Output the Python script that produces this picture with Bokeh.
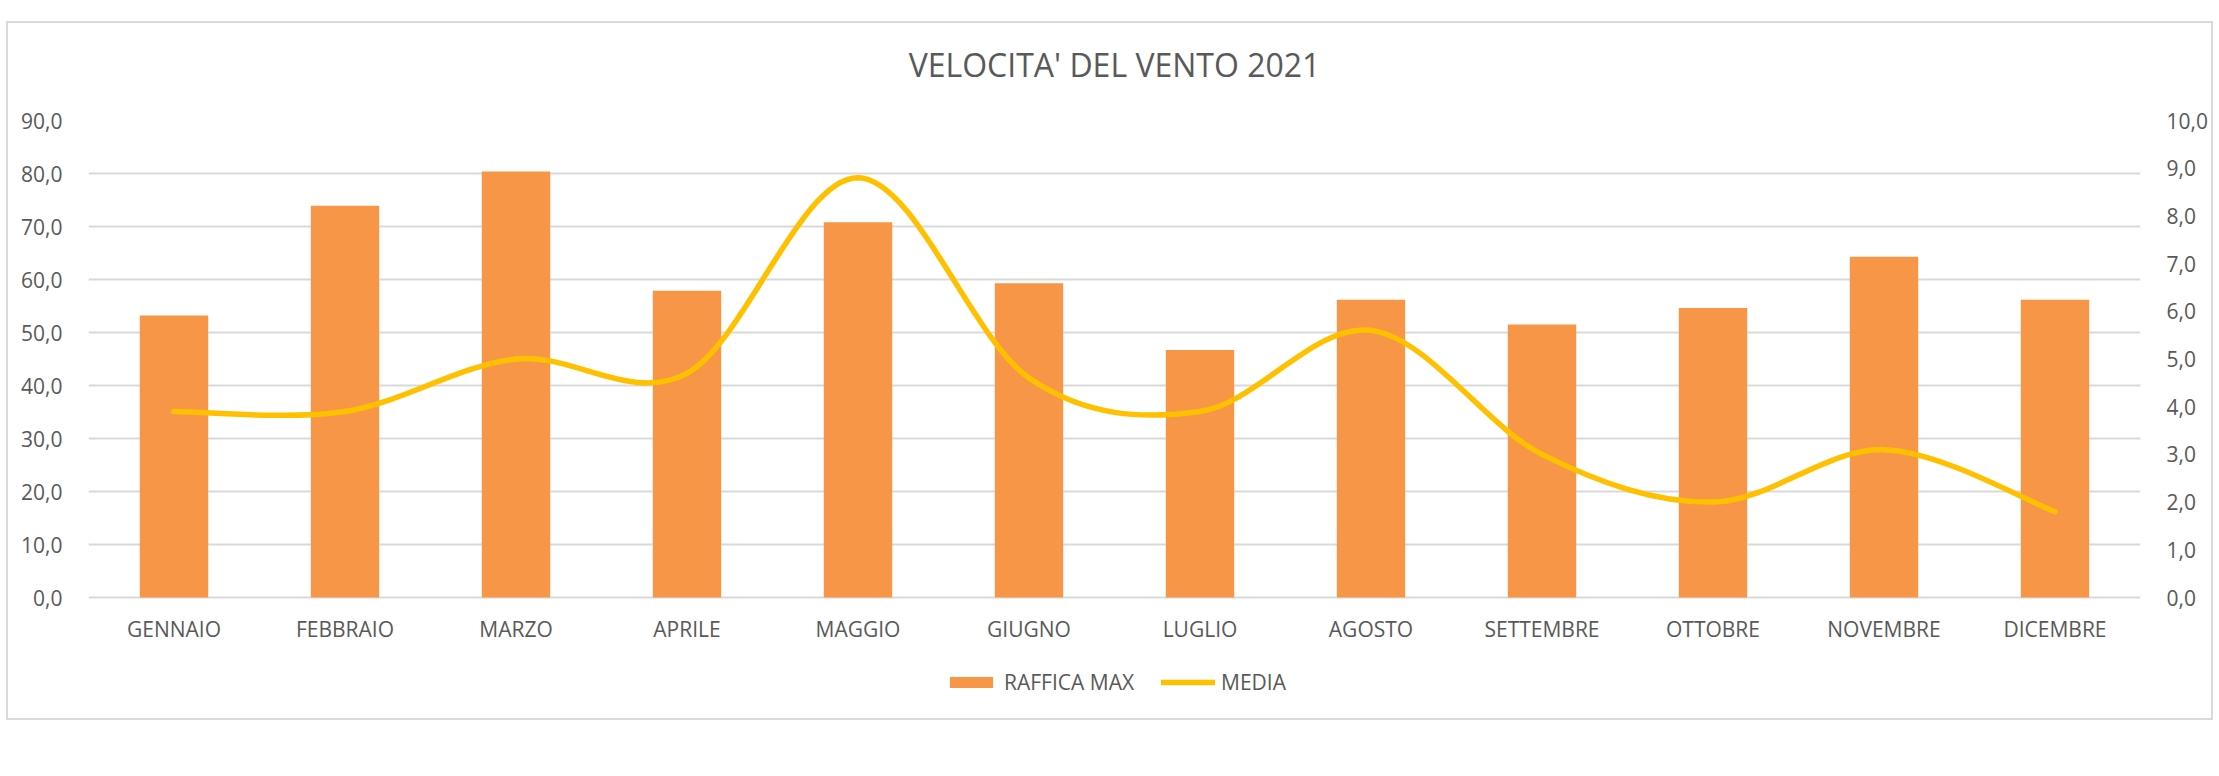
from bokeh.plotting import figure
from bokeh.models import (Range1d, LinearAxis, FixedTicker, Legend, LegendItem, Title)
from bokeh.embed import file_html
from bokeh.resources import INLINE

# ---- data ----
months = ["GENNAIO", "FEBBRAIO", "MARZO", "APRILE", "MAGGIO", "GIUGNO",
          "LUGLIO", "AGOSTO", "SETTEMBRE", "OTTOBRE", "NOVEMBRE", "DICEMBRE"]
raffica_max = [53.2, 73.9, 80.4, 57.9, 70.8, 59.3, 46.7, 56.2, 51.5, 54.6, 64.3, 56.2]
media = [3.9, 3.9, 5.0, 4.7, 8.8, 4.6, 3.9, 5.6, 3.0, 2.0, 3.1, 1.8]
left_ticks = [0, 10, 20, 30, 40, 50, 60, 70, 80, 90]
right_ticks = [0, 1, 2, 3, 4, 5, 6, 7, 8, 9, 10]
title_text = "VELOCITA' DEL VENTO 2021"

FONT = "Open Sans"
TXT = "#595959"
GRID = "#d9d9d9"
ORANGE = "#F79646"
YELLOW = "#FFC000"

# layout (pixels)
FRAME_H = 577          # plot frame incl. room for the legend under the axis
VALUE_H = 477          # pixels between 0 and 90 on the left axis
px_per_unit = VALUE_H / left_ticks[-1]
left_start = -(FRAME_H - VALUE_H) / px_per_unit
right_start = left_start * right_ticks[-1] / left_ticks[-1]

xs = list(range(len(months)))

p = figure(frame_width=2052, frame_height=FRAME_H, output_backend="svg",
           toolbar_location=None,
           x_range=Range1d(-0.5, len(months) - 0.5),
           y_range=Range1d(left_start, left_ticks[-1]),
           min_border_left=80, min_border_right=71, min_border_top=97,
           min_border_bottom=21, margin=(21, 0, 0, 6))
p.styles = {"border": "2px solid #d9d9d9"}
p.outline_line_color = None
p.background_fill_color = "white"
p.border_fill_color = "white"

# gap between plot area and title, then the title itself
p.add_layout(Title(text=" ", text_font_size="1px", standoff=32), "above")
p.add_layout(Title(text=title_text, align="center", vertical_align="bottom",
                   text_font=FONT, text_font_size="32px", text_font_style="normal",
                   text_color=TXT, standoff=0), "above")

p.extra_y_ranges = {"media": Range1d(right_start, right_ticks[-1])}

# bars
bars = p.vbar(x=xs, top=raffica_max, width=0.4, fill_color=ORANGE, line_color=None)

# smoothed line (Excel-style Catmull-Rom bezier)
n = len(media)
x0, y0, x1, y1, cx0, cy0, cx1, cy1 = [], [], [], [], [], [], [], []
for i in range(n - 1):
    pi_x, pi_y = xs[i], media[i]
    pn_x, pn_y = xs[i + 1], media[i + 1]
    pp_x, pp_y = (xs[i - 1], media[i - 1]) if i > 0 else (pi_x, pi_y)
    pnn_x, pnn_y = (xs[i + 2], media[i + 2]) if i + 2 < n else (pn_x, pn_y)
    x0.append(pi_x); y0.append(pi_y); x1.append(pn_x); y1.append(pn_y)
    cx0.append(pi_x + (pn_x - pp_x) / 6); cy0.append(pi_y + (pn_y - pp_y) / 6)
    cx1.append(pn_x - (pnn_x - pi_x) / 6); cy1.append(pn_y - (pnn_y - pi_y) / 6)
line = p.bezier(x0=x0, y0=y0, x1=x1, y1=y1, cx0=cx0, cy0=cy0, cx1=cx1, cy1=cy1,
                line_color=YELLOW, line_width=5.5, line_cap="round",
                y_range_name="media")

def fmt(v):
    return f"{v:.1f}".replace(".", ",")

# x axis (category labels just under the zero line)
xa = p.xaxis[0]
xa.ticker = FixedTicker(ticks=xs)
xa.major_label_overrides = {i: m for i, m in zip(xs, months)}
xa.fixed_location = -11 / px_per_unit

# left axis
ya = p.yaxis[0]
ya.ticker = FixedTicker(ticks=left_ticks)
ya.major_label_overrides = {t: fmt(t) for t in left_ticks}

# right axis
ra = LinearAxis(y_range_name="media", ticker=FixedTicker(ticks=right_ticks))
ra.major_label_overrides = {t: fmt(t) for t in right_ticks}
p.add_layout(ra, "right")

for ax in [xa, ya, ra]:
    ax.axis_line_color = None
    ax.major_tick_line_color = None
    ax.minor_tick_line_color = None
    ax.major_label_text_font = FONT
    ax.major_label_text_font_size = "21px"
    ax.major_label_text_color = TXT
    ax.major_label_standoff = 20
xa.major_label_standoff = 0

p.xgrid.grid_line_color = None
p.ygrid.ticker = FixedTicker(ticks=left_ticks)
p.ygrid.grid_line_color = GRID
p.ygrid.grid_line_width = 2

legend = Legend(items=[LegendItem(label="RAFFICA MAX", renderers=[bars]),
                       LegendItem(label="MEDIA", renderers=[line])],
                orientation="horizontal", location=(856, 1),
                padding=0, margin=0, spacing=27, label_standoff=6,
                glyph_width=54, glyph_height=14,
                label_text_font=FONT, label_text_font_size="21px",
                label_text_color=TXT, border_line_color=None,
                background_fill_alpha=0)
p.add_layout(legend, "center")

open("out.html", "w").write(file_html(p, INLINE))
